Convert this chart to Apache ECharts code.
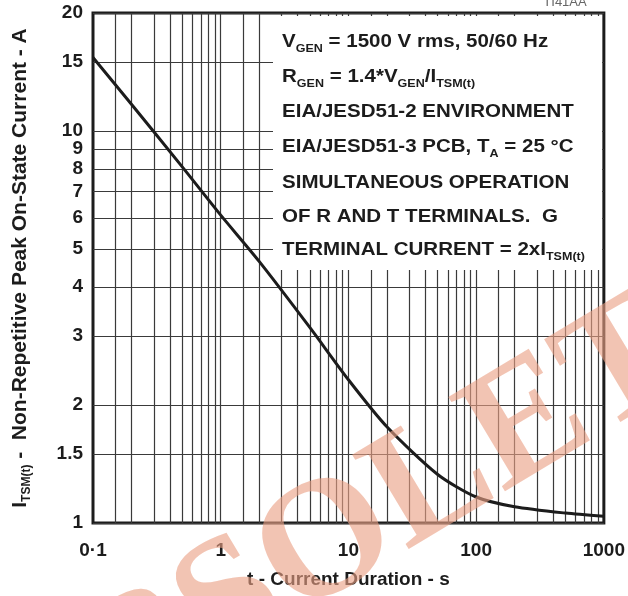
<!DOCTYPE html>
<html>
<head>
<meta charset="utf-8">
<script src="https://cdn.jsdelivr.net/npm/echarts@6/dist/echarts.min.js"></script>
<style>
  html, body { margin: 0; padding: 0; background: #fff; }
  #chart { width: 628px; height: 596px; }
</style>
</head>
<body>
<div id="chart"></div>
<script>
// curve
const durationS = [0.1, 0.2, 0.5, 1, 2, 5, 10, 20, 50, 100, 200, 500, 1000];
const currentA = [15.4, 11.7, 8.1, 6.1, 4.65, 3.15, 2.32, 1.76, 1.33, 1.165, 1.1, 1.06, 1.04];

// axes / grid
const yTicks = [1, 1.5, 2, 3, 4, 5, 6, 7, 8, 9, 10, 15, 20];
const xDecades = [0.1, 1, 10, 100];
const xSteps = [1, 1.5, 2, 3, 4, 5, 6, 7, 8, 9];
const xTickLabels = ['0·1', '1', '10', '100', '1000'];

// text in the white box
const noteLines = [
  'V{s|GEN} = 1500 V rms, 50/60 Hz',
  'R{s|GEN} = 1.4*V{s|GEN}/I{s|TSM(t)}',
  'EIA/JESD51-2 ENVIRONMENT',
  'EIA/JESD51-3 PCB, T{s|A} = 25 °C',
  'SIMULTANEOUS OPERATION',
  'OF R AND T TERMINALS.  G',
  'TERMINAL CURRENT = 2xI{s|TSM(t)}'
];
const noteY = [42, 77, 112, 147, 183, 217, 250];

const FONT = '"Liberation Sans", Arial, Helvetica, sans-serif';
const INK = '#1c1c1c';

let gridLines = [];
xDecades.forEach(d => {
  xSteps.forEach(s => {
    let v = +(d * s).toPrecision(3);
    if (v > 0.1) gridLines.push({ xAxis: v });
  });
});
yTicks.forEach(v => {
  gridLines.push({
    yAxis: v,
    label: {
      show: true, position: 'start', distance: 10, formatter: String(v),
      fontFamily: FONT, fontSize: 19, fontWeight: 'bold', color: INK
    }
  });
});

let noteTexts = noteLines.map((t, i) => ({
  type: 'text',
  x: 282, y: noteY[i],
  scaleX: 1.14,
  z: 60,
  style: {
    text: t,
    fontFamily: FONT, fontSize: 18, fontWeight: 'bold', fill: INK,
    verticalAlign: 'middle', lineHeight: 24,
    rich: {
      s: { fontFamily: FONT, fontSize: 11, fontWeight: 'bold', fill: INK, verticalAlign: 'bottom', lineHeight: 11 }
    }
  }
}));

const chart = echarts.init(document.getElementById('chart'));
chart.setOption({
  animation: false,
  grid: {
    left: 93, right: 23, top: 13, bottom: 73,
    show: true, borderColor: INK, borderWidth: 3, backgroundColor: 'transparent'
  },
  xAxis: {
    type: 'log', logBase: 10, min: 0.1, max: 1000,
    axisLine: { show: false }, axisTick: { show: false }, splitLine: { show: false },
    axisLabel: {
      margin: 18, fontFamily: FONT, fontSize: 19, fontWeight: 'bold', color: INK,
      formatter: (v, i) => xTickLabels[i] !== undefined ? xTickLabels[i] : String(v)
    },
    name: 't - Current Duration - s', nameLocation: 'middle', nameGap: 47,
    nameTextStyle: { fontFamily: FONT, fontSize: 19, fontWeight: 'bold', color: INK }
  },
  yAxis: {
    type: 'log', logBase: 10, min: 1, max: 20,
    axisLine: { show: false }, axisTick: { show: false }, splitLine: { show: false },
    axisLabel: { show: false },
    name: 'I{s|TSM(t)} -  Non-Repetitive Peak On-State Current - A',
    nameLocation: 'middle', nameGap: 60,
    nameTextStyle: {
      fontFamily: FONT, fontSize: 21, fontWeight: 'bold', color: INK, lineHeight: 25,
      rich: { s: { fontFamily: FONT, fontSize: 12, fontWeight: 'bold', color: INK, verticalAlign: 'bottom', lineHeight: 12 } }
    }
  },
  series: [
    {
      // grid lines and y tick labels
      type: 'line', data: [], z: 1, silent: true,
      markLine: {
        silent: true, symbol: ['none', 'none'],
        lineStyle: { type: 'solid', color: '#3a3a3a', width: 1.2 },
        label: { show: false },
        emphasis: { disabled: true },
        data: gridLines
      }
    },
    {
      type: 'line', z: 5,
      data: durationS.map((x, i) => [x, currentA[i]]),
      smooth: 0.25,
      showSymbol: false,
      lineStyle: { color: INK, width: 3 }
    }
  ],
  graphic: [
    { type: 'rect', z: 50, shape: { x: 273, y: 16, width: 329, height: 254 }, style: { fill: '#fff' } },
    ...noteTexts,
    {
      type: 'text', x: 565, y: 2, z: 60,
      style: { text: 'TI41AA', fontFamily: FONT, fontSize: 13, fill: '#666', align: 'center', verticalAlign: 'middle' }
    },
    {
      type: 'text', x: 376, y: 518, z: 100,
      rotation: 31 * Math.PI / 180,
      style: {
        text: 'OBSOLETE',
        fontFamily: '"Liberation Serif", "Times New Roman", serif', fontSize: 168, fontWeight: 'bold',
        fill: 'rgba(234,160,132,0.62)', align: 'center', verticalAlign: 'middle'
      }
    }
  ]
});
</script>
</body>
</html>
